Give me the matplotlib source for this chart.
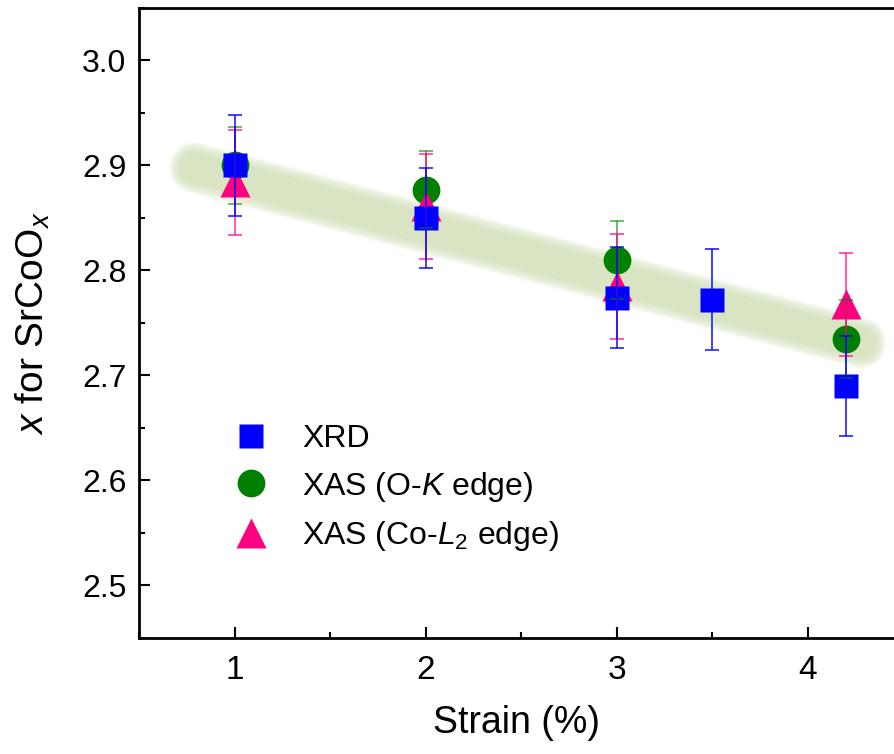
import matplotlib
matplotlib.use("Agg")
import matplotlib.pyplot as plt
from matplotlib.lines import Line2D
from matplotlib import font_manager
from matplotlib.ticker import MultipleLocator

# x = oxygen content in SrCoO_x versus epitaxial strain, three methods
strain_xrd = [1.0, 2.0, 3.0, 3.5, 4.2]
x_xrd = [2.900, 2.850, 2.774, 2.772, 2.690]
err_xrd = [0.048, 0.048, 0.048, 0.048, 0.048]

strain_ok = [1.0, 2.0, 3.0, 4.2]
x_ok = [2.900, 2.877, 2.810, 2.735]
err_ok = [0.037, 0.037, 0.037, 0.037]

strain_col2 = [1.0, 2.0, 3.0, 4.2]
x_col2 = [2.884, 2.861, 2.785, 2.768]
err_col2 = [0.050, 0.050, 0.050, 0.049]

# guide-to-the-eye band (end points)
band_x = [0.79, 4.28]
band_y = [2.898, 2.731]

installed = {f.name for f in font_manager.fontManager.ttflist}
narrow = "Liberation Sans Narrow" if "Liberation Sans Narrow" in installed else "Liberation Sans"
plt.rcParams["font.family"] = ["Liberation Sans", "DejaVu Sans"]
plt.rcParams["mathtext.fontset"] = "custom"
plt.rcParams["mathtext.it"] = "Liberation Sans:italic"
plt.rcParams["mathtext.rm"] = "Liberation Sans"

fig = plt.figure(figsize=(8.94, 7.54), dpi=100)
ax = fig.add_axes([139 / 894, 1 - 638 / 754, 1 - 139 / 894, 630 / 754])
ax.set_xlim(0.5, 0.5 + (894 - 139) / 191)
ax.set_ylim(2.45, 3.05)

# soft green band: faint halo strokes under a solid core
for w in [36, 34, 32, 30, 28, 26]:
    ax.plot(band_x, band_y, color="#d8e4c2", lw=w, alpha=0.22,
            solid_capstyle="round", zorder=1)
ax.plot(band_x, band_y, color="#d8e4c2", lw=23, solid_capstyle="round", zorder=1)

ax.plot(strain_ok, x_ok, "o", color="#008000", ms=20, mec="none", zorder=3)
ax.plot(strain_col2, x_col2, "^", color="#ff0080", ms=22, mec="none", zorder=4)
ax.plot(strain_xrd, x_xrd, "s", color="#0000ff", ms=17, mec="none", zorder=5)

ax.errorbar(strain_ok, x_ok, yerr=err_ok, fmt="none", ecolor="#008000",
            elinewidth=1.3, capsize=5, capthick=1.3, alpha=0.6, zorder=6)
ax.errorbar(strain_col2, x_col2, yerr=err_col2, fmt="none", ecolor="#ff0080",
            elinewidth=1.3, capsize=5, capthick=1.3, alpha=0.7, zorder=6)
ax.errorbar(strain_xrd, x_xrd, yerr=err_xrd, fmt="none", ecolor="#0000ff",
            elinewidth=1.3, capsize=5, capthick=1.3, alpha=0.8, zorder=7)

ax.xaxis.set_major_locator(MultipleLocator(1))
ax.xaxis.set_minor_locator(MultipleLocator(0.5))
ax.yaxis.set_major_locator(MultipleLocator(0.1))
ax.yaxis.set_minor_locator(MultipleLocator(0.05))
ax.yaxis.set_major_formatter(plt.FormatStrFormatter("%.1f"))
ax.tick_params(which="both", direction="in", width=1.5, top=False, right=False)
ax.tick_params(which="major", length=8)
ax.tick_params(which="minor", length=4.5)
ax.tick_params(axis="y", labelsize=23, pad=9)
ax.tick_params(axis="x", labelsize=24, pad=12)
for lab in ax.get_xticklabels():
    lab.set_family(narrow)
ax.spines["right"].set_visible(False)
for s in ["left", "bottom", "top"]:
    ax.spines[s].set_linewidth(2)

ax.set_xlabel("Strain (%)", fontsize=27, family=narrow, labelpad=14)
ax.set_ylabel(r"$\it{x}$ for SrCoO$_{\it{x}}$", fontsize=28, family=narrow, labelpad=22)

handles = [
    Line2D([], [], ls="none", marker="s", color="#0000ff", ms=17, mec="none"),
    Line2D([], [], ls="none", marker="o", color="#008000", ms=20, mec="none"),
    Line2D([], [], ls="none", marker="^", color="#ff0080", ms=22, mec="none"),
]
labels = ["XRD", r"XAS (O-$\it{K}$ edge)", r"XAS (Co-$\it{L}_2$ edge)"]
ax.legend(handles, labels, loc="upper left", bbox_to_anchor=(0.085, 0.385),
          frameon=False, fontsize=23, handletextpad=1.0, labelspacing=0.48,
          handlelength=1.2)

fig.savefig("out.png", dpi=100)
